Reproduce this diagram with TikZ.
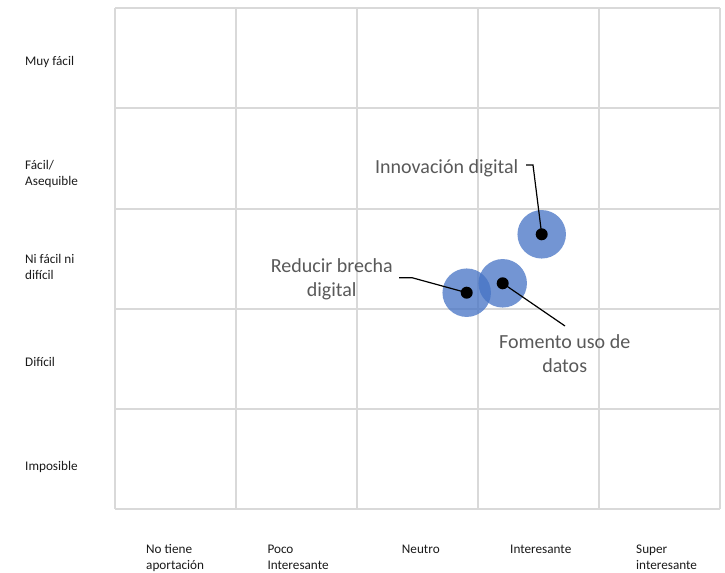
\documentclass[tikz,border=0pt]{standalone}
\usepackage{fontspec}
\setmainfont{Carlito}
\definecolor{gridc}{HTML}{D9D9D9}
\definecolor{bubble}{HTML}{4472C4}
\definecolor{lblc}{HTML}{595959}
\definecolor{axc}{HTML}{1A1A1A}
\newcommand\twoL[2]{\vtop{\baselineskip=16bp\hbox{#1}\hbox{#2}}}
\newcommand\twoC[2]{\vtop{\baselineskip=24.5bp\halign{\hfil##\hfil\cr #1\cr #2\cr}}}
\tikzset{
  gridline/.style={draw=gridc, line width=1.5bp},
  axlabel/.style={anchor=base west, inner sep=0pt, text=axc, font=\fontsize{13.2bp}{16bp}\selectfont},
  biglabel/.style={inner sep=0pt, text=lblc, font=\fontsize{20bp}{24.5bp}\selectfont},
  bub/.style={circle, fill=bubble, fill opacity=0.75, minimum size=48.5bp, inner sep=0pt},
  dot/.style={circle, fill=black, minimum size=12bp, inner sep=0pt},
  leader/.style={draw=black, line width=1.2bp}
}
\begin{document}
\begin{tikzpicture}[x=1bp, y=-1bp]
\useasboundingbox (0,0) rectangle (725,573);
% grid
\foreach \xx in {115,236,357,478,599,720} \draw[gridline] (\xx,8) -- (\xx,509);
\foreach \yy in {8,108,209,309,409,509} \draw[gridline] (115,\yy) -- (720,\yy);
% row labels
\node[axlabel] (r1) at (25,65.7) {Muy fácil};
\node[axlabel] (r2) at (25,169.5) {\twoL{Fácil/}{Asequible}};
\node[axlabel] (r3) at (25,263.3) {\twoL{Ni fácil ni}{difícil}};
\node[axlabel] (r4) at (25,366.7) {Difícil};
\node[axlabel] (r5) at (25,470) {Imposible};
% column labels
\node[axlabel] (c1) at (146,553) {\twoL{No tiene}{aportación}};
\node[axlabel] (c2) at (267.3,553) {\twoL{Poco}{Interesante}};
\node[axlabel] (c3) at (401.7,553) {Neutro};
\node[axlabel] (c4) at (510,553) {Interesante};
\node[axlabel] (c5) at (636,553) {\twoL{Super}{interesante}};
% bubbles
\node[bub] (binno) at (541.7,234.3) {};
\node[bub] (bred) at (466.7,292.7) {};
\node[bub] (bfom) at (502.7,283.3) {};
\node[dot] (inno) at (541.7,234.3) {};
\node[dot] (red) at (466.7,292.7) {};
\node[dot] (fom) at (502.7,283.3) {};
% labels
\node[biglabel, anchor=base west] (linno) at (375,173.3) {Innovación digital};
\node[biglabel, anchor=base] (lred) at (331.7,272.3) {\twoC{Reducir brecha}{digital}};
\node[biglabel, anchor=base] (lfom) at (564.7,348) {\twoC{Fomento uso de}{datos}};
% leaders
\coordinate (innoA) at (526,165);
\coordinate (innoB) at (533,165);
\coordinate (redA) at (399,277.7);
\coordinate (redB) at (412,277.7);
\coordinate (fomA) at (565,326);
\draw[leader] (innoA) -- (innoB) -- (inno.center);
\draw[leader] (redA) -- (redB) -- (red.center);
\draw[leader] (fomA) -- (fom.center);
\end{tikzpicture}
\end{document}
